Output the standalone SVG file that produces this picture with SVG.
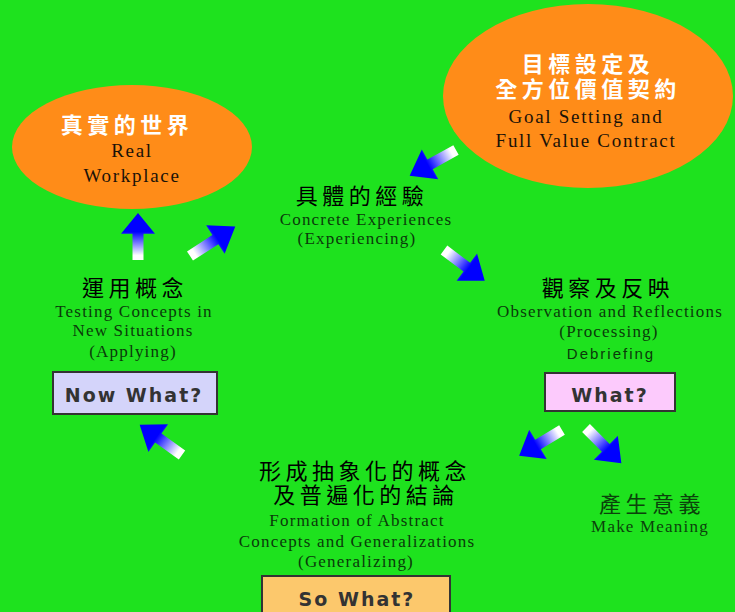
<svg xmlns="http://www.w3.org/2000/svg" xmlns:xlink="http://www.w3.org/1999/xlink" width="735" height="612" viewBox="0 0 735 612">
<style>
.cjkw{font-family:"Noto Sans CJK TC","Noto Sans CJK SC",sans-serif;font-size:22px;font-weight:bold;fill:#fff;letter-spacing:4.5px;text-anchor:middle}
.cjk{font-family:"Noto Sans CJK TC","Noto Sans CJK SC",sans-serif;font-size:22px;fill:#000;letter-spacing:4.5px;text-anchor:middle}
.en{font-family:"Liberation Serif","Times New Roman",serif;font-size:17px;fill:#0a3a0a;letter-spacing:1.2px;text-anchor:middle}
.eno{font-family:"Liberation Serif","Times New Roman",serif;font-size:19px;fill:#1a1208;letter-spacing:1.7px;text-anchor:middle}
.sans{font-family:"Liberation Sans",Arial,sans-serif;font-size:15px;fill:#0a3a0a;letter-spacing:2px;text-anchor:middle}
.btn{font-family:"DejaVu Sans",Verdana,sans-serif;font-size:19px;font-weight:bold;fill:#333;letter-spacing:2px;text-anchor:middle}
.box{stroke:#333;stroke-width:2}
.ell{fill:#ff8c18}
</style>
<defs>
<linearGradient id="ag" x1="0" y1="0" x2="1" y2="0">
<stop offset="0.1" stop-color="#ffffff"/>
<stop offset="0.6" stop-color="#0000ff"/>
<stop offset="1" stop-color="#0000ff"/>
</linearGradient>
<path id="arrow" d="M0,-5.5 L28,-5.5 L28,-17 L50,0 L28,17 L28,5.5 L0,5.5 Z" fill="url(#ag)"/>
</defs>
<rect x="0" y="0" width="735" height="612" fill="#1ee21e"/>

<g id="node-real-workplace">
<ellipse class="ell" cx="132" cy="147" rx="120" ry="62"/>
<text class="cjkw" x="127" y="133">真實的世界</text>
<text class="eno" x="132" y="157">Real</text>
<text class="eno" x="132" y="182">Workplace</text>
</g>

<g id="node-goal-setting">
<ellipse class="ell" cx="588" cy="96" rx="145" ry="92"/>
<text class="cjkw" x="588" y="72">目標設定及<tspan x="588" dy="25">全方位價值契約</tspan></text>
<text class="eno" x="586" y="123">Goal Setting and</text>
<text class="eno" x="586" y="147">Full Value Contract</text>
</g>

<g id="node-concrete-experiences">
<text class="cjk" x="362" y="204">具體的經驗</text>
<text class="en" x="366" y="225">Concrete Experiences</text>
<text class="en" x="357" y="244">(Experiencing)</text>
</g>

<g id="node-observation">
<text class="cjk" x="608" y="296">觀察及反映</text>
<text class="en" x="610" y="317">Observation and Reflections</text>
<text class="en" x="609" y="337">(Processing)</text>
<text class="sans" x="611" y="359">Debriefing</text>
<rect class="box" x="545" y="373" width="130" height="38" fill="#fccafc"/>
<text class="btn" x="610" y="402">What?</text>
</g>

<g id="node-make-meaning">
<text class="cjk" x="652" y="512" style="fill:#0b420b">產生意義</text>
<text class="en" x="650" y="532" style="fill:#0b420b">Make Meaning</text>
</g>

<g id="node-abstract-concepts">
<text class="cjk" x="365" y="479">形成抽象化的概念<tspan x="366" dy="24">及普遍化的結論</tspan></text>
<text class="en" x="357" y="526">Formation of Abstract</text>
<text class="en" x="357" y="547">Concepts and Generalizations</text>
<text class="en" x="356" y="567">(Generalizing)</text>
<rect class="box" x="262" y="576" width="188" height="44" fill="#fcc86c"/>
<text class="btn" x="357" y="606">So What?</text>
</g>

<g id="node-testing-concepts">
<text class="cjk" x="135" y="296">運用概念</text>
<text class="en" x="134" y="317">Testing Concepts in</text>
<text class="en" x="133" y="336">New Situations</text>
<text class="en" x="133" y="357">(Applying)</text>
<rect class="box" x="53" y="372" width="164" height="42" fill="#d4d4fa"/>
<text class="btn" x="134" y="402">Now What?</text>
</g>

<g id="connectors">
<use xlink:href="#arrow" transform="translate(138,260) rotate(-90) scale(0.94,1)"/>
<use xlink:href="#arrow" transform="translate(190,256) rotate(-33) scale(1.08,1)"/>
<use xlink:href="#arrow" transform="translate(456,150) rotate(151) scale(1.06,1)"/>
<use xlink:href="#arrow" transform="translate(444,250) rotate(37) scale(1.02,1)"/>
<use xlink:href="#arrow" transform="translate(562,430) rotate(149) scale(1.0,1)"/>
<use xlink:href="#arrow" transform="translate(586,428) rotate(45) scale(1.0,1)"/>
<use xlink:href="#arrow" transform="translate(182,455) rotate(-144.5) scale(1.04,1)"/>
</g>
</svg>
